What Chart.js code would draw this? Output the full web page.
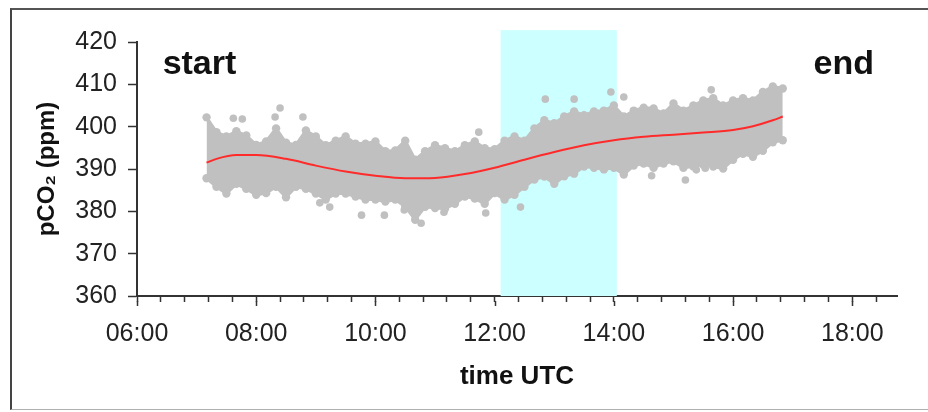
<!DOCTYPE html>
<html>
<head>
<meta charset="utf-8">
<script src="https://cdn.jsdelivr.net/npm/chart.js@4"></script>
<style>
  body { margin: 0; background: #fff; }
  #wrap { position: relative; width: 928px; height: 412px; overflow: hidden; }
  #frame { position: absolute; left: 10px; top: 8px; width: 940px; height: 399px;
           border-top: 2px solid #555; border-left: 2px solid #444; border-bottom: 1px solid #b0b0b0; }
  canvas { position: absolute; left: 0; top: 0; }
</style>
</head>
<body>
<div id="wrap">
  <div id="frame"></div>
  <canvas id="grafico" width="928" height="412"></canvas>
</div>
<script>
// Envelope of the measured pCO2 cloud (10 min steps)
const cloudTimes = ['07:10','07:20','07:30','07:40','07:50','08:00','08:10','08:20','08:30','08:40','08:50',
  '09:00','09:10','09:20','09:30','09:40','09:50','10:00','10:10','10:20','10:30','10:40','10:50',
  '11:00','11:10','11:20','11:30','11:40','11:50','12:00','12:10','12:20','12:30','12:40','12:50',
  '13:00','13:10','13:20','13:30','13:40','13:50','14:00','14:10','14:20','14:30','14:40','14:50',
  '15:00','15:10','15:20','15:30','15:40','15:50','16:00','16:10','16:20','16:30','16:40','16:50'];
const cloudTop = [402.2, 398.7, 397.7, 398.9, 397.9, 395.7, 396.5, 399.6, 396.2, 395.7, 399.1,
  397.7, 395.6, 396.7, 397.7, 396.0, 396.0, 396.5, 394.2, 394.4, 396.7, 392.2, 394.2,
  395.6, 394.9, 394.2, 395.6, 396.5, 394.9, 394.7, 396.7, 397.7, 396.7, 399.6, 401.5,
  400.8, 402.4, 403.6, 402.7, 403.6, 403.8, 405.0, 402.4, 403.8, 404.5, 404.3, 403.1,
  405.5, 403.8, 405.0, 406.2, 406.7, 405.0, 406.2, 406.7, 406.2, 408.2, 409.5, 409.0];
const cloudBottom = [387.8, 385.8, 384.2, 386.5, 385.3, 383.9, 384.3, 385.8, 383.3, 385.8, 385.3,
  384.2, 382.8, 384.2, 384.2, 383.5, 382.8, 382.8, 382.3, 382.8, 381.1, 378.0, 381.1,
  380.8, 380.6, 381.8, 383.5, 383.0, 381.8, 384.3, 382.8, 383.9, 385.8, 387.5, 388.2,
  386.5, 388.3, 388.9, 390.6, 390.3, 389.9, 390.3, 388.7, 390.8, 391.3, 390.3, 391.3,
  391.8, 390.3, 390.6, 391.0, 390.6, 390.1, 392.2, 393.6, 392.9, 394.3, 396.3, 396.8];

// Single scattered points outside the envelope
const outlierTimes = ['07:37','07:46','08:19','08:24','08:47','09:04','09:14','09:46','10:09','10:29',
  '10:46','11:09','11:44','11:51','12:26','12:51','13:20','13:57','14:10','14:38','15:12','15:23','15:32','15:38'];
const outlierValues = [402.0, 401.8, 402.3, 404.4, 402.3, 382.0, 381.0, 379.1, 379.1, 380.3,
  377.2, 379.8, 398.7, 379.6, 381.0, 406.5, 406.5, 408.2, 407.0, 388.4, 387.4, 389.8, 390.2, 408.7];

// Smoothed trend (red line)
const trendTimes = ['07:10','07:20','07:40','08:00','08:30','09:00','09:30','10:00','10:30','11:00','11:30',
  '12:00','12:30','13:00','13:30','14:00','14:30','15:00','15:30','16:00','16:20','16:40','16:50'];
const trendValues = [391.5, 392.4, 393.3, 393.3, 392.4, 390.8, 389.4, 388.4, 387.8, 387.9, 388.8,
  390.3, 392.2, 394.0, 395.6, 396.8, 397.6, 398.1, 398.6, 399.2, 400.1, 401.5, 402.4];

// Highlighted period
const bandStart = '12:06';
const bandEnd = '14:03';
const bandTop = 422.8;

const yTicks = [360, 370, 380, 390, 400, 410, 420];

const toHours = s => { const [h, m] = s.split(':').map(Number); return h + m / 60; };
const pontos = (times, vals) => times.map((t, i) => ({ x: toHours(t), y: vals[i] }));

const fonte = '"Liberation Sans", Arial, sans-serif';
const cinza = '#c0c0c0';

const faixaPlugin = {
  id: 'faixa',
  beforeDatasetsDraw(chart) {
    const { ctx, scales: { x, y } } = chart;
    const x0 = x.getPixelForValue(toHours(bandStart));
    const x1 = x.getPixelForValue(toHours(bandEnd));
    const y0 = y.getPixelForValue(bandTop);
    const y1 = y.getPixelForValue(yTicks[0]);
    ctx.save();
    ctx.fillStyle = '#ccffff';
    ctx.fillRect(x0, y0, x1 - x0, y1 - y0);
    ctx.restore();
  },
  afterDraw(chart) {
    const { ctx, scales: { x, y } } = chart;
    ctx.save();
    // longer ticks at labelled hours
    ctx.strokeStyle = '#333';
    ctx.lineWidth = 1.5;
    x.ticks.forEach(t => {
      if (Math.abs(t.value / 2 - Math.round(t.value / 2)) < 1e-6) {
        const px = Math.round(x.getPixelForValue(t.value)) + 0.5;
        ctx.beginPath();
        ctx.moveTo(px, y.bottom + 5);
        ctx.lineTo(px, y.bottom + 10);
        ctx.stroke();
      }
    });
    ctx.fillStyle = '#111';
    ctx.font = 'bold 34px ' + fonte;
    ctx.textBaseline = 'alphabetic';
    ctx.fillText('start', x.getPixelForValue(6.43), y.getPixelForValue(412.4));
    ctx.fillText('end', x.getPixelForValue(17.35), y.getPixelForValue(412.4));
    ctx.restore();
  }
};

const ctx = document.getElementById('grafico').getContext('2d');
const grafico = new Chart(ctx, {
  type: 'line',
  data: {
    datasets: [
      {
        label: 'tendência',
        data: pontos(trendTimes, trendValues),
        borderColor: '#ff2a2a',
        borderWidth: 2,
        pointRadius: 0,
        cubicInterpolationMode: 'monotone',
        fill: false,
        order: 0
      },
      {
        type: 'scatter',
        label: 'pontos isolados',
        data: pontos(outlierTimes, outlierValues),
        backgroundColor: cinza,
        borderWidth: 0,
        pointRadius: 3.8,
        order: 1
      },
      {
        label: 'topo',
        data: pontos(cloudTimes, cloudTop),
        borderColor: cinza,
        backgroundColor: cinza,
        borderWidth: 3,
        pointRadius: 4.2,
        pointBorderWidth: 0,
        tension: 0,
        fill: '+1',
        order: 2
      },
      {
        label: 'base',
        data: pontos(cloudTimes, cloudBottom),
        borderColor: cinza,
        backgroundColor: cinza,
        borderWidth: 3,
        pointRadius: 4.2,
        pointBorderWidth: 0,
        tension: 0,
        fill: false,
        order: 2
      }
    ]
  },
  options: {
    responsive: false,
    animation: false,
    layout: { padding: { left: 28, right: 31, top: 42, bottom: 16 } },
    plugins: {
      legend: { display: false },
      tooltip: { enabled: false }
    },
    scales: {
      x: {
        type: 'linear',
        min: 6,
        max: 18.75,
        afterFit: s => { s.height = 100; },
        grid: { drawOnChartArea: false, tickLength: 6, tickColor: '#333', tickWidth: 1.5 },
        border: { display: true, color: '#333', width: 2 },
        ticks: {
          stepSize: 0.4,
          includeBounds: false,
          autoSkip: false,
          maxRotation: 0,
          padding: 17,
          color: '#222',
          font: { family: fonte, size: 25 },
          callback: v => Math.abs(v / 2 - Math.round(v / 2)) < 1e-6
            ? String(Math.round(v)).padStart(2, '0') + ':00' : ''
        },
        title: {
          display: true,
          text: 'time UTC',
          color: '#111',
          font: { family: fonte, size: 26, weight: 'bold' },
          padding: { top: 0, bottom: 4 }
        }
      },
      y: {
        min: yTicks[0],
        max: yTicks[yTicks.length - 1],
        afterFit: s => { s.width = 109; },
        grid: { drawOnChartArea: false, tickLength: 9, tickColor: '#333', tickWidth: 1.5 },
        border: { display: true, color: '#333', width: 2 },
        ticks: {
          stepSize: 10,
          padding: 11,
          color: '#222',
          font: { family: fonte, size: 25 }
        },
        title: {
          display: true,
          text: 'pCO₂ (ppm)',
          color: '#111',
          font: { family: fonte, size: 24, weight: 'bold' },
          padding: { top: 5, bottom: 0 }
        }
      }
    }
  },
  plugins: [faixaPlugin]
});
</script>
</body>
</html>
